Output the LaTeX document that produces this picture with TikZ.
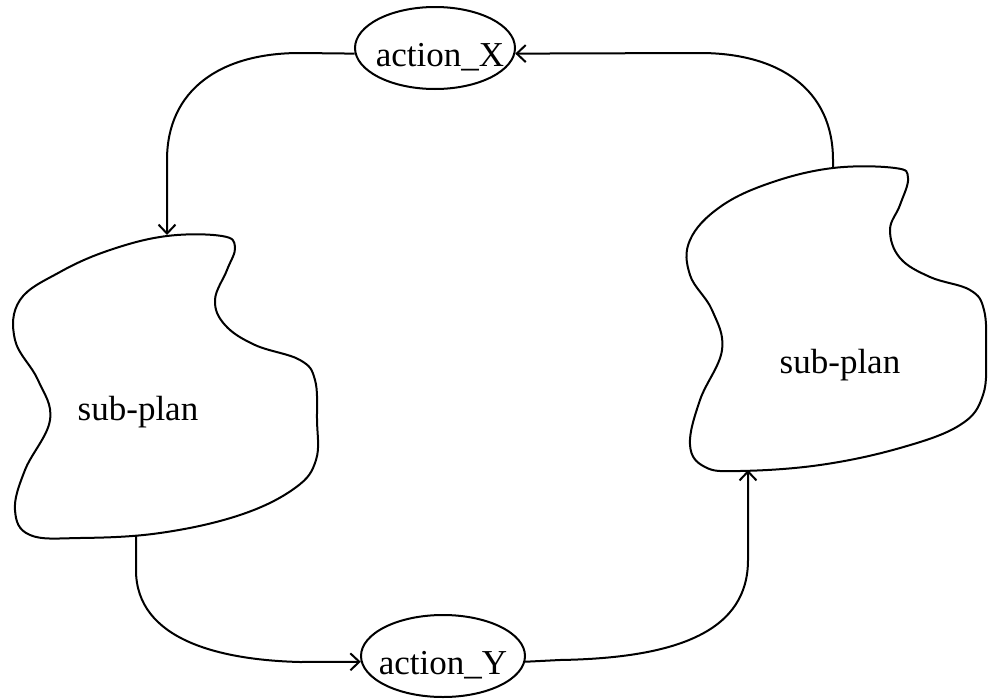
\documentclass[tikz,border=0pt]{standalone}
\usepackage{fontspec}
\setmainfont{Liberation Serif}
\usetikzlibrary{arrows.meta,shapes.geometric}

% label of zero width, so the ellipse size is set by minimum width/height only
\newcommand{\actlabel}[2][0pt]{\makebox[0pt]{\hspace*{#1}#2}}

\tikzset{
  action/.style={draw, ellipse, line width=2pt, minimum width=160pt, minimum height=82pt,
    inner sep=0pt, text height=36pt, text depth=0pt,
    font=\fontsize{35}{40}\selectfont},
  blob/.style={line width=2pt},
  label/.style={anchor=base, font=\fontsize{35}{40}\selectfont},
  link/.style={line width=2pt, -{Straight Barb[length=9pt,width=17pt,line width=2pt]}},
}

\begin{document}
\begin{tikzpicture}[x=1pt,y=-1pt]
  \useasboundingbox (0,0) rectangle (988,699);
  \fill[white] (0,0) rectangle (988,699);

  % the two actions
  \node[action] (ax) at (435,48) {\actlabel[10pt]{action\_X}};
  \node[action, minimum width=164pt] (ay) at (443,656) {\actlabel{action\_Y}};

  % left sub-plan outline
  \draw[blob] plot[smooth cycle, tension=0.65] coordinates {
    (167,236) (222,236) (235,247) (227,270) (215,300) (225,325) (255,345)
    (300,360) (315,380) (317,420) (316,460) (295,488) (240,515) (160,533)
    (80,538) (30,535) (15,510) (25,470) (50,420) (38,380) (15,340)
    (20,300) (60,272) (110,250)};
  \node[label] (sl) at (138,420) {sub-plan};

  % right sub-plan outline
  \draw[blob] plot[smooth cycle, tension=0.65] coordinates {
    (833,168) (895,168) (908,178) (900,205) (890,230) (900,258) (930,277)
    (970,290) (984,310) (986,350) (983,395) (960,425) (900,448) (820,465)
    (740,471) (705,467) (690,445) (700,400) (722,350) (712,310) (690,275)
    (690,240) (720,207) (770,183)};
  \node[label] (sr) at (840,373) {sub-plan};

  % attachment points on the sub-plan outlines
  \coordinate (lt) at (167,235);
  \coordinate (lb) at (136,536);
  \coordinate (rt) at (833,168);
  \coordinate (rb) at (748,470);

  % connectors
  \draw[link] (ax.184) -- (300,53) .. controls (220,53) and (167,90) .. (167,160) -- (lt);
  \draw[link] (rt) -- (833,160) .. controls (833,90) and (780,53) .. (700,53) -- (ax.-4);
  \draw[link] (lb) -- (136,570) .. controls (136,640) and (220,660) .. (300,662) -- (ay.184);
  \draw[link] (ay.-4) -- (560,660) .. controls (680,658) and (748,630) .. (748,560) -- (rb);
\end{tikzpicture}
\end{document}
